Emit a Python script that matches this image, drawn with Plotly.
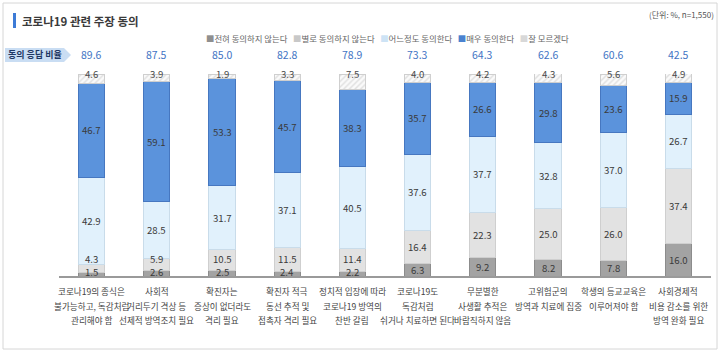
import plotly.graph_objects as go

# ---------------- data ----------------
categories = [
    ["코로나19의 종식은", "불가능하고, 독감처럼", "관리해야 함"],
    ["사회적", "거리두기 격상 등", "선제적 방역조치 필요"],
    ["확진자는", "증상이 없더라도", "격리 필요"],
    ["확진자 적극", "동선 추적 및", "접촉자 격리 필요"],
    ["정치적 입장에 따라", "코로나19 방역의", "찬반 갈림"],
    ["코로나19도", "독감처럼", "쉬거나 치료하면 된다"],
    ["무분별한", "사생활 추적은", "바람직하지 않음"],
    ["고위험군의", "방역과 치료에 집중", ""],
    ["학생의 등교교육은", "이루어져야 함", ""],
    ["사회경제적", "비용 감소를 위한", "방역 완화 필요"],
]
series_names = ["전혀 동의하지 않는다", "별로 동의하지 않는다", "어느정도 동의한다", "매우 동의한다", "잘 모르겠다"]
strongly_disagree = [1.5, 2.6, 2.5, 2.4, 2.2, 6.3, 9.2, 8.2, 7.8, 16.0]
disagree = [4.3, 5.9, 10.5, 11.5, 11.4, 16.4, 22.3, 25.0, 26.0, 37.4]
somewhat_agree = [42.9, 28.5, 31.7, 37.1, 40.5, 37.6, 37.7, 32.8, 37.0, 26.7]
strongly_agree = [46.7, 59.1, 53.3, 45.7, 38.3, 35.7, 26.6, 29.8, 23.6, 15.9]
dont_know = [4.6, 3.9, 1.9, 3.3, 7.5, 4.0, 4.2, 4.3, 5.6, 4.9]
agree_total = [89.6, 87.5, 85.0, 82.8, 78.9, 73.3, 64.3, 62.6, 60.6, 42.5]

series_values = [strongly_disagree, disagree, somewhat_agree, strongly_agree, dont_know]
fill_colors = ["#a3a3a3", "#e2e2e2", "#e1f1fc", "#5b93dc", "#ffffff"]
line_colors = ["#8c8c8c", "#cfcfcf", "#c9dcea", "#4677c0", "#cfcfcf"]
legend_colors = ["#8f8f8f", "#c8c8c8", "#cde3f5", "#4a82d0", "#d8d8d8"]

FONT = "Noto Sans CJK KR"
# ---------------- layout helpers ----------------
L, R, T, B = 59, 711, 74, 276
W, H = R - L, B - T
def px(x):
    return (x - L) / W
def py(y):
    return (B - y) / H

x_idx = list(range(len(categories)))
fig = go.Figure()
for k, (name, vals) in enumerate(zip(series_names, series_values)):
    marker = dict(color=fill_colors[k], line=dict(color=line_colors[k], width=1))
    if k == 4:
        marker["pattern"] = dict(shape="/", fgcolor="#c4c4c4", bgcolor="#fafafa", size=4, solidity=0.35)
    fig.add_trace(go.Bar(x=x_idx, y=vals, name=name, marker=marker, showlegend=False))

annotations = []
# segment value labels (bottom four segments) with simple overlap avoidance
for i in x_idx:
    cum = 0.0
    prev = None
    for k in range(4):
        v = series_values[k][i]
        c = cum + v / 2
        if prev is None:
            yv = max(c, 2.0)
        else:
            yv = max(c, prev + 6.2)
        prev = yv
        cum += v
        annotations.append(dict(x=i, y=yv, xref="x", yref="y", text=f"{v:.1f}", showarrow=False,
                                font=dict(family=FONT, size=9.6, color="#3a3a3a"), yanchor="middle"))
    # don't-know labels at top of each bar
    annotations.append(dict(x=i, y=py(74), xref="x", yref="paper", text=f"{dont_know[i]:.1f}", showarrow=False,
                            font=dict(family=FONT, size=9.6, color="#4a4a4a"), yanchor="middle"))
    # agree totals
    annotations.append(dict(x=i, y=py(55), xref="x", yref="paper", text=f"{agree_total[i]:.1f}", showarrow=False,
                            font=dict(family=FONT, size=10.5, color="#4274c4"), yanchor="middle"))
    # category labels
    for j, line in enumerate(categories[i]):
        if line:
            annotations.append(dict(x=i, y=py(291 + 14.5 * j), xref="x", yref="paper", text=line, showarrow=False,
                                    font=dict(family=FONT, size=8.6, color="#444444"), yanchor="middle"))

# title, unit, badge, legend
annotations.append(dict(x=px(20), y=py(21), xref="paper", yref="paper", xanchor="left", yanchor="middle",
                        text="<b>코로나19 관련 주장 동의</b>", showarrow=False,
                        font=dict(family=FONT, size=11.5, color="#3a3a3a")))
annotations.append(dict(x=px(716), y=py(15), xref="paper", yref="paper", xanchor="right", yanchor="middle",
                        text="(단위: %, n=1,550)", showarrow=False,
                        font=dict(family=FONT, size=8, color="#555555")))
annotations.append(dict(x=px(35), y=py(55), xref="paper", yref="paper", xanchor="center", yanchor="middle",
                        text="<b>동의 응답 비율</b>", showarrow=False,
                        font=dict(family=FONT, size=9, color="#1f3864")))
legend_text = "   ".join(
    f"<span style='color:{c}'>■</span>{n}" for n, c in zip(series_names, legend_colors)
)
annotations.append(dict(x=px(204), y=py(38), xref="paper", yref="paper", xanchor="left", yanchor="middle",
                        text=legend_text, showarrow=False,
                        font=dict(family=FONT, size=8.4, color="#666666")))

shapes = [
    dict(type="rect", xref="paper", yref="paper", x0=px(3), x1=px(717), y0=py(349), y1=py(3),
         line=dict(color="#d6d6d6", width=1), fillcolor="rgba(0,0,0,0)", layer="below"),
    dict(type="rect", xref="paper", yref="paper", x0=px(13), x1=px(16), y0=py(28), y1=py(13),
         line=dict(width=0), fillcolor="#3d7bd6"),
    dict(type="path", xref="paper", yref="paper",
         path=f"M {px(5)},{py(48)} L {px(64)},{py(48)} L {px(71)},{py(55)} L {px(64)},{py(62)} L {px(5)},{py(62)} Z",
         line=dict(width=0), fillcolor="#c9ddf3", layer="below"),
]

fig.update_layout(
    barmode="stack",
    bargap=0.6,
    width=720, height=353,
    margin=dict(l=L, r=720 - R, t=T, b=353 - B),
    paper_bgcolor="white", plot_bgcolor="white",
    annotations=annotations,
    shapes=shapes,
    font=dict(family=FONT),
    xaxis=dict(range=[-0.5, 9.5], showticklabels=False, showgrid=False, zeroline=False,
               showline=True, linecolor="#9a9a9a", linewidth=1.5, fixedrange=True),
    yaxis=dict(range=[0, 100], visible=False, fixedrange=True),
)
fig.write_html("out.html")
